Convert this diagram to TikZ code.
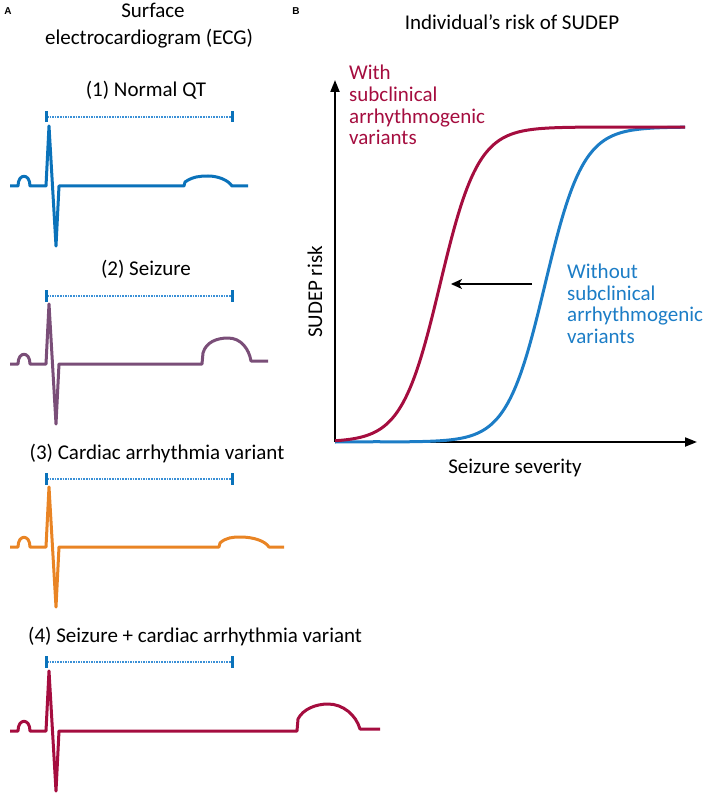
\documentclass[tikz,border=0pt]{standalone}
\usepackage{fontspec}
\setmainfont{Carlito}
\newfontfamily\labelfont{Liberation Sans}
\usetikzlibrary{arrows.meta}
\definecolor{ecgblue}{HTML}{0A72BA}
\definecolor{ecgpurple}{HTML}{7A4E78}
\definecolor{ecgorange}{HTML}{E98424}
\definecolor{ecgred}{HTML}{A50D3F}
\definecolor{curveblue}{HTML}{1C7DC6}
\definecolor{dotblue}{HTML}{3A90D6}
\tikzset{
  txt/.style={font=\fontsize{21}{25}\selectfont, inner sep=0pt},
  panellabel/.style={font=\labelfont\bfseries\fontsize{10}{12}\selectfont, inner sep=0pt},
  ecgline/.style={line width=3pt, line join=round, line cap=butt},
  qtdot/.style={dotblue, line width=1.7pt, dash pattern=on 1.5pt off 1.1pt},
  qttick/.style={ecgblue, line width=3pt},
  axisline/.style={line width=2pt, black},
  curve/.style={line width=3pt, line join=round},
}
\begin{document}
\begin{tikzpicture}[x=1pt,y=-1pt]
\useasboundingbox (0,0) rectangle (708,794);

% panel labels
\node[panellabel, anchor=base] (labA) at (8,15) {A};
\node[panellabel, anchor=base] (labB) at (296,15) {B};

% panel A titles
\node[txt, anchor=base] (tsurf) at (153,18) {Surface};
\node[txt, anchor=base] (tecg) at (149,45) {electrocardiogram (ECG)};
\node[txt, anchor=base] (t1) at (146,97) {(1) Normal QT};
\node[txt, anchor=base] (t2) at (146,275) {(2) Seizure};
\node[txt, anchor=base] (t3) at (157,459) {(3) Cardiac arrhythmia variant};
\node[txt, anchor=base west] (t4) at (28,642) {(4) Seizure + cardiac arrhythmia variant};

% QT bars
\foreach \yb in {117,296,479,662}{
  \draw[qtdot] (47,\yb) -- (231,\yb);
  \draw[qttick] (46,\yb-6) -- (46,\yb+5.5);
  \draw[qttick] (232,\yb-6) -- (232,\yb+5.5);
}

% ECG 1
\def\yz{186}
\draw[ecgline, ecgblue] (10,\yz) -- (18,\yz) .. controls (18,\yz-13) and (30,\yz-13) .. (30,\yz) -- (46,\yz) -- (49,\yz-60) -- (56,\yz+60) -- (59,\yz) -- (184,\yz) -- (185,\yz-4)
  .. controls (193,\yz-9.5) and (200,\yz-10) .. (208,\yz-10)
  .. controls (218,\yz-10) and (228,\yz-6) .. (232,\yz) -- (248,\yz);

% ECG 2
\def\yz{364}
\draw[ecgline, ecgpurple] (10,\yz) -- (18,\yz) .. controls (18,\yz-13) and (30,\yz-13) .. (30,\yz) -- (46,\yz) -- (49,\yz-60) -- (56,\yz+60) -- (59,\yz) -- (202,\yz) -- (203,\yz-11)
  .. controls (206,\yz-22) and (217,\yz-26) .. (228,\yz-26)
  .. controls (241,\yz-26) and (249,\yz-15) .. (251,\yz-3) -- (268,\yz-3);

% ECG 3
\def\yz{547}
\draw[ecgline, ecgorange] (10,\yz) -- (18,\yz) .. controls (18,\yz-13) and (30,\yz-13) .. (30,\yz) -- (46,\yz) -- (49,\yz-60) -- (56,\yz+60) -- (59,\yz) -- (219,\yz) -- (220,\yz-4)
  .. controls (226,\yz-9.5) and (233,\yz-10) .. (240,\yz-10)
  .. controls (254,\yz-10) and (265,\yz-6) .. (269,\yz) -- (284,\yz);

% ECG 4
\def\yz{731}
\draw[ecgline, ecgred] (10,\yz) -- (18,\yz) .. controls (18,\yz-13) and (30,\yz-13) .. (30,\yz) -- (46,\yz) -- (49,\yz-60) -- (56,\yz+60) -- (59,\yz) -- (297,\yz) -- (298,\yz-12)
  .. controls (303,\yz-22) and (316,\yz-27) .. (328,\yz-27)
  .. controls (343,\yz-27) and (356,\yz-16) .. (360,\yz-2) -- (380,\yz-2);

% panel B
\node[txt, anchor=base] (tB) at (512,30) {Individual’s risk of SUDEP};

\coordinate (O) at (335,442);
\coordinate (ytip) at (335,80);
\coordinate (xtip) at (697,442);
\draw[axisline, -{Triangle[length=12pt,width=9pt]}] (O) -- (ytip);
\draw[axisline, -{Triangle[length=12pt,width=9pt]}] (O) -- (xtip);

\node[txt, anchor=base, rotate=90] (ylab) at (322,292) {SUDEP risk};
\node[txt, anchor=base] (xlab) at (515,473) {Seizure severity};

% curves (logistic)
\draw[curve, curveblue] (O) -- (380,441.7) -- plot[domain=380:685, samples=160]
  (\x, {442-315/(1+exp(-(\x-545)/19))});
\draw[curve, ecgred] plot[domain=335:685, samples=160]
  (\x, {442-315/(1+exp(-(\x-440)/19))});

% shift arrow
\coordinate (ar1) at (532,284);
\coordinate (ar2) at (451,284);
\draw[line width=1.5pt, -{Stealth[length=11pt,width=10pt,inset=3pt]}] (ar1) -- (ar2);

% curve labels
\node[txt, anchor=base west, text=ecgred] (w1) at (349,80) {With};
\node[txt, anchor=base west, text=ecgred] (w2) at (349,102) {subclinical};
\node[txt, anchor=base west, text=ecgred] (w3) at (349,123.5) {arrhythmogenic};
\node[txt, anchor=base west, text=ecgred] (w4) at (349,145) {variants};

\node[txt, anchor=base west, text=curveblue] (o1) at (567,278) {Without};
\node[txt, anchor=base west, text=curveblue] (o2) at (567,300) {subclinical};
\node[txt, anchor=base west, text=curveblue] (o3) at (567,321.5) {arrhythmogenic};
\node[txt, anchor=base west, text=curveblue] (o4) at (567,343) {variants};
\end{tikzpicture}
\end{document}
